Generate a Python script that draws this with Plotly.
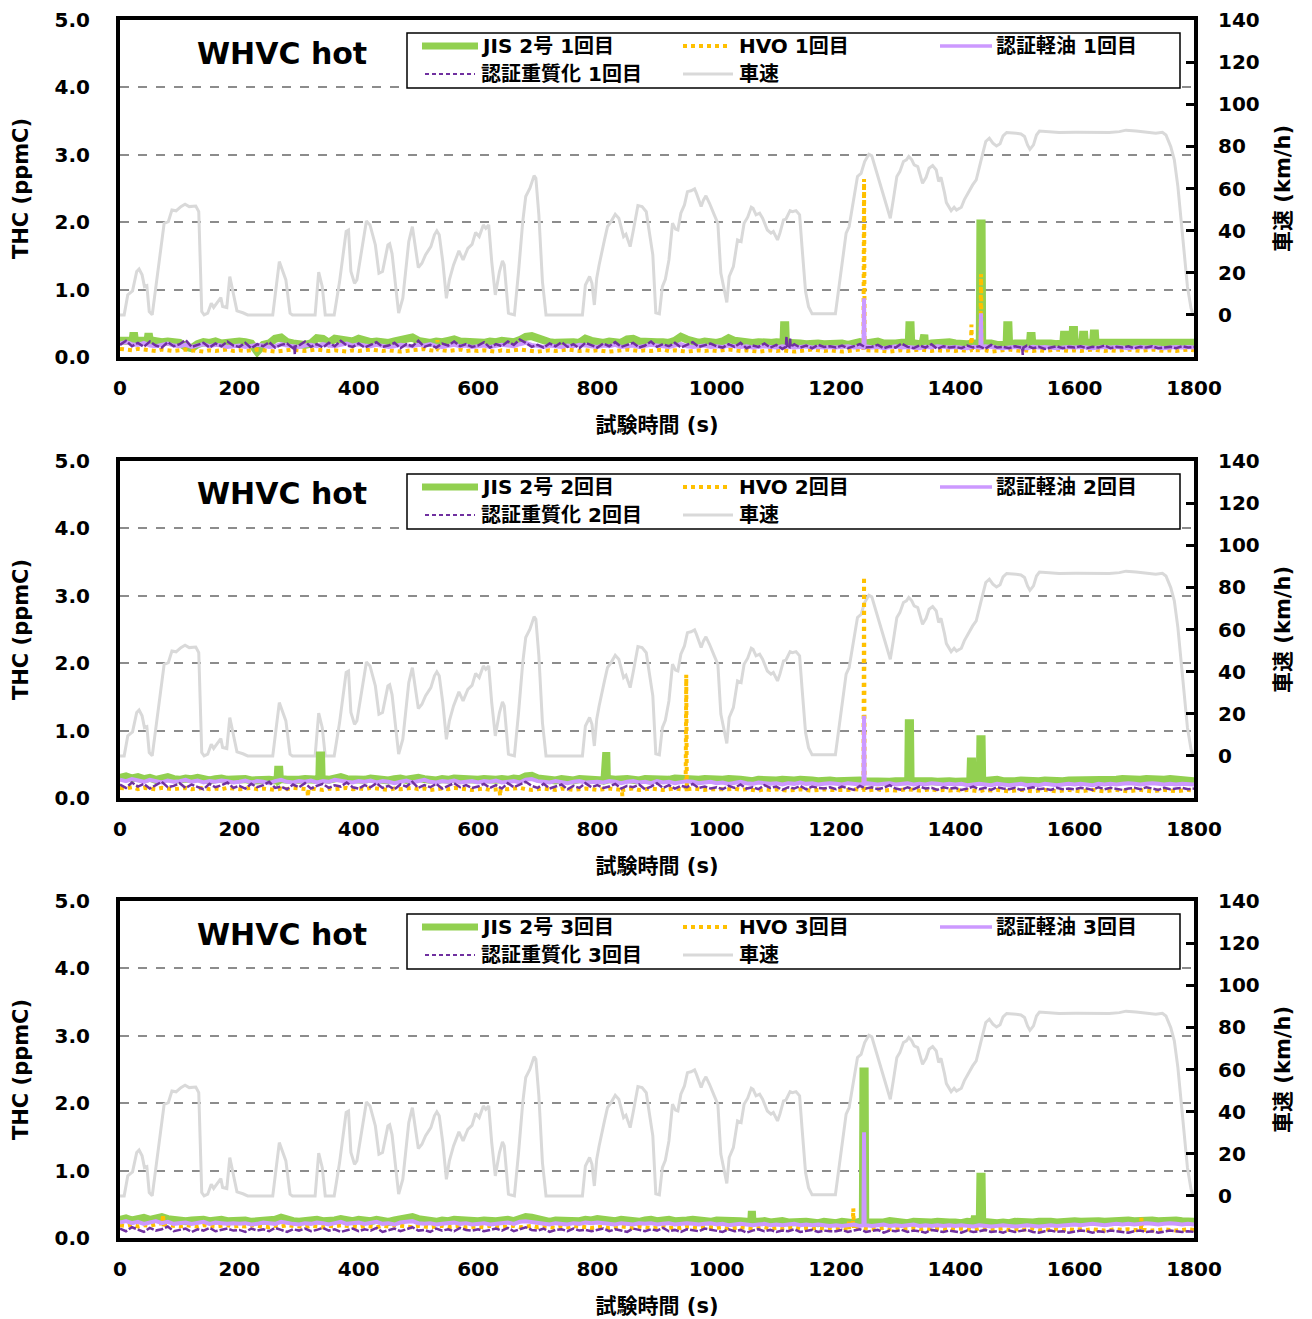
import plotly.graph_objects as go

FONT = "DejaVu Sans, Noto Sans CJK JP, sans-serif"
W, H = 1312, 1319

# ---------------------------------------------------------------
# Vehicle speed over the WHVC cycle (s, km/h) - same in every run
# ---------------------------------------------------------------
speed_t = [0, 7, 13, 21, 28, 32, 37, 41, 45, 49, 54, 59, 65, 74, 81, 87, 94, 102, 109, 116,
           127, 132, 137, 141, 147, 153, 157, 164, 169, 172, 179, 184, 192, 196, 206, 214, 228, 256, 267, 273,
           278, 285, 289, 327, 333, 339, 344, 359, 368, 379, 383, 387, 393, 397, 404, 413, 419, 428, 434, 440,
           449, 452, 456, 461, 467, 474, 478, 484, 490, 495, 500, 506, 512, 521, 527, 531, 535, 541, 547, 552,
           559, 568, 571, 575, 583, 590, 596, 602, 609, 613, 618, 623, 629, 636, 641, 644, 651, 661, 668, 675,
           680, 687, 694, 697, 702, 708, 714, 775, 780, 787, 791, 795, 799, 803, 812, 817, 823, 830, 836, 844,
           848, 855, 860, 868, 875, 882, 887, 893, 898, 904, 909, 914, 920, 926, 931, 935, 940, 946, 951, 957,
           963, 966, 974, 978, 982, 988, 996, 1002, 1007, 1013, 1017, 1021, 1028, 1035, 1041, 1046, 1052, 1058, 1061, 1066,
           1072, 1077, 1085, 1091, 1095, 1102, 1106, 1112, 1116, 1123, 1127, 1133, 1139, 1143, 1149, 1154, 1160, 1199, 1204, 1210,
           1217, 1222, 1229, 1236, 1242, 1248, 1255, 1260, 1267, 1275, 1284, 1291, 1296, 1302, 1307, 1313, 1318, 1322, 1327, 1331,
           1337, 1345, 1351, 1356, 1362, 1368, 1372, 1376, 1382, 1385, 1393, 1398, 1402, 1410, 1415, 1421, 1429, 1435, 1440, 1446,
           1451, 1457, 1463, 1469, 1475, 1480, 1486, 1495, 1502, 1510, 1516, 1521, 1525, 1531, 1536, 1541, 1552, 1574, 1602, 1630,
           1658, 1675, 1686, 1703, 1720, 1736, 1747, 1753, 1761, 1767, 1773, 1778, 1784, 1789, 1795, 1798, 1800]
speed_kmh = [0, 0, 9.5, 11.4, 20.6, 21.8, 19.0, 13.4, 13.9, 1.6, 0, 11.0, 23.7, 43.5, 44.3, 49.8, 49.4, 51.4, 52.5, 51.4,
             51.7, 49.0, 1.6, 0, 0.8, 5.5, 3.5, 6.3, 8.2, 4.0, 3.5, 18.2, 7.1, 1.9, 1.0, 0, 0, 0, 25.3, 20.6,
             16.6, 0.8, 0, 0, 20.3, 13.4, 0, 0, 15.8, 39.6, 40.3, 20.6, 15.0, 16.6, 28.5, 44.6, 42.7, 33.2, 19.8, 20.6,
             33.2, 33.8, 29.0, 17.4, 0.8, 7.9, 19.0, 34.8, 41.9, 31.6, 22.5, 24.5, 28.5, 32.4, 38.0, 39.9, 38.0, 25.3, 7.9, 16.6,
             23.7, 30.4, 28.8, 26.1, 31.6, 33.5, 39.1, 37.2, 42.7, 41.1, 42.7, 25.3, 9.5, 20.6, 25.6, 23.7, 0.8, 0, 20.6, 44.3,
             56.2, 60.1, 66.1, 64.9, 47.5, 15.8, 0, 0, 14.2, 18.2, 15.0, 4.7, 17.4, 23.7, 35.6, 41.9, 44.3, 47.8, 45.9, 37.2,
             38.3, 32.4, 39.6, 51.9, 51.4, 49.0, 39.6, 28.5, 1.0, 0.5, 13.4, 16.9, 26.1, 43.5, 40.7, 40.3, 48.3, 52.2, 58.5, 58.9,
             59.8, 57.8, 51.4, 54.6, 56.5, 53.0, 47.5, 43.5, 19.8, 10.3, 5.9, 18.2, 22.9, 35.6, 34.8, 43.5, 46.4, 51.1, 50.6, 47.5,
             48.3, 45.9, 40.3, 38.8, 39.6, 35.6, 38.8, 45.1, 45.4, 49.5, 49.0, 49.5, 47.5, 32.4, 11.1, 3.9, 0.5, 0.5, 11.9, 22.9,
             38.8, 41.9, 53.0, 65.7, 67.2, 72.8, 76.3, 75.5, 68.8, 60.9, 53.0, 45.9, 54.6, 65.7, 68.0, 72.8, 73.6, 75.2, 73.6, 71.2,
             70.4, 62.5, 65.3, 69.6, 70.9, 68.8, 63.3, 65.3, 57.8, 53.3, 49.5, 51.1, 49.8, 51.1, 54.6, 57.8, 61.7, 64.1, 70.4, 76.7,
             82.3, 83.9, 81.5, 80.2, 81.2, 85.0, 86.6, 86.2, 86.2, 85.9, 84.7, 80.7, 78.6, 80.7, 85.4, 87.3, 87.0, 86.6, 86.7, 86.6,
             86.6, 87.0, 87.7, 87.3, 86.6, 86.2, 86.7, 85.4, 79.9, 73.6, 60.9, 45.1, 29.3, 13.4, 3.2, 0.5, 0]

# ---------------------------------------------------------------
# THC records, one value every 10 s, in units of 0.01 ppmC
# ---------------------------------------------------------------
thc_t = list(range(0, 1801, 10))

# run 1
jis_1 = [24, 25, 26, 24, 22, 25, 23, 22, 23, 22, 21, 15, 13, 19, 22, 21, 23, 20, 22, 24,
         23, 22, 20, 8, 18, 20, 27, 29, 22, 20, 19, 18, 20, 28, 27, 21, 27, 26, 24, 23,
         27, 24, 22, 23, 22, 21, 23, 25, 28, 29, 24, 22, 21, 23, 22, 24, 26, 23, 22, 21,
         22, 21, 23, 22, 24, 23, 22, 25, 30, 31, 27, 23, 22, 21, 22, 21, 22, 21, 27, 24,
         22, 21, 23, 22, 21, 26, 27, 23, 22, 21, 22, 22, 21, 24, 30, 26, 22, 21, 23, 22,
         21, 23, 28, 24, 22, 20, 21, 22, 20, 21, 22, 23, 21, 22, 20, 19, 21, 20, 19, 20,
         19, 20, 18, 21, 22, 20, 21, 23, 20, 19, 20, 21, 22, 20, 19, 18, 20, 21, 19, 22,
         20, 18, 19, 20, 19, 21, 20, 18, 19, 21, 20, 19, 18, 20, 21, 22, 20, 19, 20, 21,
         22, 21, 22, 20, 21, 22, 23, 22, 21, 22, 23, 22, 21, 22, 23, 22, 21, 22, 23, 22,
         21]
hvo_1 = [12, 11, 10, 12, 11, 10, 9, 11, 10, 9, 10, 11, 10, 9, 8, 10, 9, 10, 11, 9,
         10, 9, 10, 11, 10, 9, 8, 9, 10, 11, 10, 9, 10, 11, 10, 9, 10, 9, 8, 10,
         9, 10, 11, 10, 9, 10, 9, 8, 9, 10, 11, 12, 10, 9, 10, 9, 10, 11, 9, 10,
         9, 10, 9, 8, 10, 9, 10, 11, 10, 9, 8, 9, 10, 9, 10, 11, 10, 9, 10, 9,
         10, 9, 8, 9, 10, 11, 10, 9, 10, 9, 10, 11, 9, 10, 9, 8, 9, 10, 9, 10,
         9, 10, 11, 10, 9, 10, 9, 8, 9, 10, 9, 10, 9, 8, 9, 10, 11, 10, 9, 10,
         9, 8, 9, 10, 11, 10, 9, 10, 9, 8, 9, 10, 9, 10, 11, 10, 9, 10, 9, 10,
         9, 10, 9, 10, 9, 10, 8, 9, 10, 11, 10, 9, 10, 9, 10, 9, 10, 11, 10, 9,
         10, 9, 10, 11, 10, 9, 10, 9, 10, 11, 10, 9, 10, 11, 10, 9, 10, 9, 10, 11,
         10]
kei_1 = [20, 22, 19, 18, 21, 17, 16, 18, 20, 17, 16, 18, 15, 17, 19, 16, 18, 17, 15, 16,
         17, 15, 16, 18, 17, 15, 16, 19, 17, 16, 15, 17, 18, 16, 19, 17, 16, 18, 20, 17,
         19, 17, 16, 18, 17, 15, 16, 18, 17, 16, 18, 17, 19, 16, 15, 17, 18, 16, 17, 15,
         16, 17, 15, 16, 18, 17, 16, 19, 21, 18, 16, 15, 17, 16, 15, 17, 16, 18, 17, 16,
         15, 17, 16, 18, 15, 16, 17, 15, 16, 18, 17, 16, 15, 17, 19, 16, 15, 16, 17, 15,
         16, 15, 17, 16, 15, 16, 14, 15, 16, 15, 14, 16, 15, 14, 15, 16, 14, 15, 14, 15,
         14, 15, 16, 14, 15, 16, 14, 15, 13, 15, 16, 14, 15, 14, 13, 15, 14, 16, 15, 14,
         15, 14, 13, 15, 14, 16, 15, 14, 13, 14, 15, 14, 13, 15, 14, 15, 14, 13, 14, 15,
         14, 15, 14, 13, 14, 15, 14, 15, 14, 13, 14, 15, 14, 15, 14, 13, 14, 15, 14, 15,
         14]
jyu_1 = [18, 24, 16, 21, 15, 23, 17, 14, 22, 16, 19, 25, 15, 18, 21, 14, 20, 16, 23, 17,
         15, 21, 13, 19, 16, 22, 14, 18, 20, 13, 17, 23, 15, 19, 14, 21, 16, 24, 17, 15,
         20, 14, 18, 22, 15, 17, 21, 13, 19, 16, 24, 15, 18, 14, 20, 17, 23, 16, 19, 15,
         17, 22, 14, 19, 16, 23, 18, 26, 21, 15, 18, 14, 20, 16, 22, 15, 19, 13, 21, 17,
         14, 20, 16, 22, 15, 18, 21, 14, 17, 23, 15, 19, 16, 21, 14, 18, 22, 15, 17, 20,
         16, 14, 19, 15, 21, 13, 17, 15, 20, 14, 18, 12, 16, 19, 14, 17, 13, 18, 15, 16,
         14, 17, 13, 16, 19, 14, 15, 18, 13, 16, 14, 20, 15, 13, 17, 14, 19, 12, 16, 14,
         15, 13, 17, 14, 16, 12, 18, 14, 15, 13, 16, 14, 17, 13, 15, 12, 14, 16, 13, 15,
         14, 16, 13, 15, 14, 17, 13, 15, 14, 16, 13, 15, 14, 16, 13, 14, 15, 13, 16, 14,
         15]

# run 2
jis_2 = [30, 32, 29, 31, 28, 30, 27, 29, 31, 28, 27, 29, 28, 30, 27, 26, 28, 29, 27, 28,
         27, 28, 26, 27, 28, 27, 26, 28, 27, 26, 27, 28, 27, 26, 28, 27, 29, 31, 28, 27,
         28, 27, 29, 28, 27, 26, 28, 29, 27, 28, 30, 28, 27, 26, 28, 27, 29, 28, 27, 26,
         27, 28, 26, 27, 28, 27, 29, 28, 32, 33, 29, 28, 27, 26, 28, 27, 26, 28, 27, 28,
         27, 26, 28, 27, 29, 28, 27, 26, 28, 27, 28, 26, 27, 29, 28, 27, 26, 27, 28, 27,
         26, 27, 28, 26, 27, 26, 25, 27, 26, 25, 26, 27, 25, 26, 27, 25, 26, 25, 27, 26,
         25, 26, 24, 25, 26, 25, 24, 26, 25, 24, 25, 26, 24, 25, 26, 27, 25, 24, 26, 25,
         24, 25, 26, 24, 25, 26, 25, 27, 25, 24, 25, 26, 25, 24, 25, 26, 25, 24, 25, 26,
         26, 27, 26, 25, 26, 27, 26, 27, 28, 27, 26, 27, 28, 27, 26, 27, 28, 27, 26, 27,
         25]
hvo_2 = [15, 14, 16, 13, 15, 14, 13, 15, 14, 13, 14, 15, 13, 14, 15, 13, 14, 13, 15, 14,
         13, 14, 15, 13, 14, 13, 12, 14, 13, 15, 14, 13, 14, 13, 12, 14, 13, 14, 15, 13,
         14, 13, 15, 14, 13, 12, 14, 13, 14, 15, 13, 14, 12, 13, 14, 13, 15, 14, 13, 12,
         13, 14, 12, 13, 14, 13, 14, 15, 13, 12, 13, 14, 13, 12, 14, 13, 12, 13, 14, 13,
         12, 13, 14, 13, 12, 13, 14, 12, 13, 14, 13, 12, 13, 14, 13, 12, 14, 13, 12, 13,
         13, 12, 13, 14, 12, 13, 12, 11, 13, 12, 13, 12, 11, 12, 13, 12, 11, 12, 13, 12,
         12, 11, 12, 13, 12, 11, 12, 13, 11, 12, 11, 12, 13, 12, 11, 12, 13, 11, 12, 11,
         12, 11, 12, 11, 10, 12, 11, 12, 11, 10, 11, 12, 11, 10, 11, 12, 11, 10, 11, 12,
         11, 10, 11, 12, 11, 10, 11, 12, 11, 10, 11, 12, 11, 10, 11, 12, 11, 10, 11, 12,
         11]
kei_2 = [27, 25, 28, 26, 24, 27, 25, 23, 26, 24, 25, 27, 24, 26, 23, 25, 24, 26, 25, 23,
         24, 26, 23, 25, 24, 22, 25, 27, 24, 23, 25, 24, 26, 23, 25, 24, 27, 25, 24, 23,
         25, 24, 26, 23, 25, 24, 22, 24, 26, 23, 25, 27, 24, 23, 25, 24, 26, 23, 24, 25,
         23, 25, 24, 26, 23, 24, 25, 23, 27, 28, 25, 24, 23, 25, 24, 22, 24, 25, 23, 24,
         24, 23, 25, 24, 22, 24, 25, 23, 24, 22, 25, 23, 24, 22, 23, 25, 24, 22, 23, 24,
         22, 23, 21, 22, 24, 22, 21, 23, 22, 21, 22, 20, 22, 21, 23, 21, 22, 20, 21, 22,
         21, 20, 22, 21, 20, 22, 21, 20, 21, 22, 20, 21, 22, 20, 21, 20, 22, 21, 20, 21,
         20, 21, 19, 20, 21, 20, 19, 21, 20, 19, 20, 21, 19, 20, 19, 21, 20, 19, 20, 21,
         20, 21, 20, 19, 21, 20, 21, 20, 21, 22, 21, 20, 21, 22, 21, 20, 21, 20, 21, 20,
         20]
jyu_2 = [20, 15, 23, 17, 21, 14, 19, 24, 16, 18, 22, 15, 20, 17, 13, 21, 16, 19, 23, 15,
         18, 14, 21, 16, 19, 24, 15, 17, 13, 20, 16, 22, 14, 18, 21, 15, 19, 17, 23, 16,
         14, 19, 16, 22, 15, 18, 13, 20, 17, 24, 15, 19, 16, 21, 14, 18, 22, 16, 19, 15,
         17, 21, 15, 19, 14, 22, 16, 20, 24, 18, 15, 21, 14, 17, 20, 13, 18, 15, 22, 16,
         19, 15, 17, 21, 14, 18, 16, 20, 13, 17, 22, 15, 19, 14, 18, 16, 21, 15, 17, 14,
         16, 13, 18, 15, 20, 14, 16, 13, 19, 15, 17, 12, 16, 14, 18, 13, 17, 15, 14, 16,
         13, 17, 15, 12, 18, 14, 16, 13, 15, 19, 14, 12, 16, 13, 17, 14, 15, 12, 16, 14,
         15, 12, 14, 17, 13, 15, 12, 16, 14, 13, 15, 12, 14, 16, 13, 14, 12, 15, 13, 14,
         13, 15, 14, 12, 16, 13, 15, 14, 12, 14, 15, 13, 16, 14, 12, 15, 13, 14, 15, 13,
         14]

# run 3
jis_3 = [27, 29, 26, 28, 30, 27, 29, 31, 28, 26, 27, 25, 26, 28, 27, 25, 26, 27, 25, 26,
         25, 26, 24, 25, 26, 25, 27, 30, 26, 25, 24, 25, 26, 27, 25, 24, 26, 28, 26, 25,
         27, 26, 25, 27, 26, 24, 26, 28, 29, 31, 28, 26, 25, 24, 26, 25, 27, 26, 25, 24,
         25, 26, 24, 25, 26, 27, 25, 28, 31, 30, 27, 25, 24, 26, 25, 24, 26, 25, 27, 26,
         28, 27, 26, 25, 27, 26, 25, 24, 26, 27, 25, 26, 27, 25, 24, 26, 27, 26, 25, 24,
         26, 25, 24, 26, 25, 24, 23, 24, 25, 23, 24, 25, 23, 24, 25, 24, 23, 22, 24, 23,
         22, 24, 23, 22, 24, 23, 22, 24, 23, 25, 24, 23, 22, 24, 23, 22, 23, 24, 22, 23,
         23, 22, 24, 23, 22, 23, 24, 22, 23, 22, 24, 23, 22, 23, 24, 25, 24, 23, 24, 25,
         25, 24, 25, 26, 25, 24, 25, 26, 25, 26, 25, 26, 27, 26, 25, 26, 27, 26, 25, 26,
         24]
hvo_3 = [19, 18, 20, 17, 19, 18, 20, 22, 19, 18, 17, 19, 18, 17, 19, 18, 17, 18, 19, 17,
         18, 17, 19, 18, 17, 16, 18, 17, 19, 18, 17, 16, 18, 17, 16, 18, 17, 19, 18, 17,
         16, 18, 17, 16, 18, 17, 19, 18, 17, 16, 18, 17, 16, 17, 18, 16, 17, 18, 16, 17,
         17, 16, 18, 17, 16, 17, 18, 16, 17, 18, 16, 17, 16, 15, 17, 16, 18, 17, 16, 15,
         16, 17, 15, 16, 17, 16, 15, 17, 16, 15, 16, 17, 15, 16, 15, 17, 16, 15, 16, 15,
         15, 16, 14, 15, 16, 15, 14, 15, 16, 14, 15, 14, 15, 16, 14, 15, 14, 15, 14, 15,
         14, 15, 13, 14, 15, 14, 13, 14, 15, 13, 14, 13, 14, 15, 13, 14, 13, 14, 13, 14,
         13, 14, 13, 12, 14, 13, 12, 13, 14, 12, 13, 12, 13, 14, 12, 13, 12, 13, 12, 13,
         12, 13, 12, 13, 12, 11, 12, 13, 12, 13, 12, 13, 12, 11, 12, 13, 12, 11, 12, 13,
         12]
kei_3 = [23, 25, 22, 24, 21, 23, 25, 22, 24, 21, 22, 23, 21, 22, 24, 21, 23, 22, 21, 22,
         21, 22, 20, 21, 23, 22, 21, 24, 22, 21, 20, 22, 21, 23, 22, 20, 22, 24, 21, 22,
         23, 21, 22, 24, 21, 22, 20, 23, 24, 25, 22, 21, 22, 20, 21, 22, 23, 21, 22, 20,
         21, 22, 20, 21, 22, 23, 21, 24, 25, 24, 22, 21, 20, 22, 21, 20, 22, 21, 23, 22,
         23, 22, 21, 20, 22, 21, 20, 22, 21, 22, 20, 21, 22, 20, 21, 22, 21, 20, 21, 22,
         20, 21, 19, 20, 21, 20, 19, 20, 21, 19, 20, 19, 20, 21, 19, 20, 19, 20, 19, 18,
         19, 18, 19, 20, 18, 19, 18, 19, 20, 18, 19, 18, 19, 20, 18, 19, 18, 19, 18, 19,
         18, 19, 18, 17, 19, 18, 17, 18, 19, 18, 17, 18, 19, 18, 17, 18, 19, 18, 19, 20,
         20, 19, 20, 21, 20, 19, 20, 21, 20, 21, 20, 21, 22, 21, 20, 21, 22, 21, 20, 21,
         20]
jyu_3 = [14, 10, 16, 12, 9, 15, 11, 13, 17, 10, 12, 14, 9, 13, 11, 15, 10, 12, 14, 11,
         12, 9, 14, 11, 13, 10, 15, 12, 9, 13, 11, 14, 10, 12, 15, 11, 13, 9, 12, 14,
         10, 13, 11, 15, 9, 12, 14, 10, 13, 16, 11, 12, 9, 14, 11, 13, 10, 15, 12, 11,
         13, 10, 12, 14, 11, 15, 10, 13, 16, 12, 11, 14, 9, 12, 13, 10, 14, 11, 12, 10,
         12, 14, 10, 13, 11, 9, 14, 12, 10, 13, 11, 15, 10, 12, 9, 13, 11, 10, 14, 12,
         11, 9, 13, 10, 12, 8, 11, 13, 10, 12, 9, 11, 10, 13, 9, 11, 12, 9, 11, 10,
         10, 12, 9, 11, 13, 9, 10, 12, 8, 11, 10, 12, 9, 11, 10, 8, 12, 10, 9, 11,
         10, 8, 11, 9, 10, 12, 9, 10, 8, 11, 9, 10, 12, 9, 8, 10, 11, 9, 10, 8,
         9, 11, 10, 8, 10, 9, 11, 10, 9, 8, 10, 11, 9, 10, 8, 9, 11, 10, 9, 10,
         9]

# short events between the 10 s samples (s, 0.01 ppmC)
jis_1_ev_t = [21, 22, 24, 25, 46, 47, 49, 50, 1112, 1113, 1115, 1116, 1322, 1323, 1325, 1326,
              1345, 1346, 1348, 1349, 1441, 1442, 1444, 1445, 1486, 1487, 1489, 1490, 1525, 1526, 1528, 1529,
              1581, 1582, 1584, 1585, 1596, 1597, 1599, 1600, 1613, 1614, 1616, 1617, 1631, 1632, 1634, 1635]
jis_1_ev_v = [24, 31, 31, 24, 24, 30, 30, 25, 21, 47, 47, 21, 21, 47, 47, 21,
              20, 33, 33, 20, 20, 198, 198, 20, 19, 47, 47, 19, 20, 31, 31, 20,
              21, 33, 33, 21, 21, 40, 40, 21, 21, 33, 33, 21, 21, 35, 35, 21]
hvo_1_ev_t = [531, 532, 533, 1246, 1247, 1248, 1426, 1427, 1428, 1442, 1443, 1444]
hvo_1_ev_v = [11, 25, 11, 10, 264, 10, 10, 48, 10, 10, 123, 10]
kei_1_ev_t = [1246, 1247, 1248, 1442, 1443, 1444]
kei_1_ev_v = [14, 87, 14, 14, 65, 14]
jyu_1_ev_t = [292, 293, 294, 1116, 1117, 1118, 1122, 1123, 1124, 1512, 1513, 1514]
jyu_1_ev_v = [16, 4, 16, 15, 30, 15, 15, 28, 15, 14, 3, 14]

jis_2_ev_t = [264, 265, 267, 268, 334, 335, 337, 338, 812, 813, 815, 816,
              1321, 1322, 1324, 1325, 1425, 1426, 1428, 1429, 1441, 1442, 1444, 1445]
jis_2_ev_v = [27, 42, 42, 27, 27, 63, 63, 27, 27, 68, 68, 27,
              25, 111, 111, 25, 25, 54, 54, 25, 25, 87, 87, 25]
hvo_2_ev_t = [314, 315, 316, 636, 637, 638, 841, 842, 843, 948, 949, 950, 1246, 1247, 1248]
hvo_2_ev_v = [13, 2, 13, 13, 3, 13, 12, 3, 12, 13, 183, 13, 12, 328, 12]
kei_2_ev_t = [1246, 1247, 1248]
kei_2_ev_v = [21, 122, 21]
jyu_2_ev_t = []
jyu_2_ev_v = []

jis_3_ev_t = [1058, 1059, 1061, 1062, 1245, 1246, 1248, 1249, 1431, 1432, 1434, 1435, 1441, 1442, 1444, 1445]
jis_3_ev_v = [24, 40, 40, 24, 23, 247, 247, 23, 23, 28, 28, 23, 24, 91, 91, 24]
hvo_3_ev_t = [71, 72, 73, 1221, 1222, 1223, 1228, 1229, 1230, 1711, 1712, 1713]
hvo_3_ev_v = [20, 35, 20, 16, 25, 16, 16, 44, 16, 12, 30, 12]
kei_3_ev_t = [1246, 1247, 1248]
kei_3_ev_v = [19, 157, 19]
jyu_3_ev_t = []
jyu_3_ev_v = []

runs = ["1", "2", "3"]
series = [
    [(jis_1, jis_1_ev_t, jis_1_ev_v), (hvo_1, hvo_1_ev_t, hvo_1_ev_v),
     (kei_1, kei_1_ev_t, kei_1_ev_v), (jyu_1, jyu_1_ev_t, jyu_1_ev_v)],
    [(jis_2, jis_2_ev_t, jis_2_ev_v), (hvo_2, hvo_2_ev_t, hvo_2_ev_v),
     (kei_2, kei_2_ev_t, kei_2_ev_v), (jyu_2, jyu_2_ev_t, jyu_2_ev_v)],
    [(jis_3, jis_3_ev_t, jis_3_ev_v), (hvo_3, hvo_3_ev_t, hvo_3_ev_v),
     (kei_3, kei_3_ev_t, kei_3_ev_v), (jyu_3, jyu_3_ev_t, jyu_3_ev_v)],
]

fuel_names = ["JIS 2号", "HVO", "認証軽油", "認証重質化"]
speed_name = "車速"

C_JIS, C_HVO, C_KEI, C_JYU, C_SPD = "#92D050", "#FFC000", "#CC99FF", "#7030A0", "#D9D9D9"
line_styles = [
    dict(color=C_JIS, width=8),
    dict(color=C_HVO, width=4, dash="dot"),
    dict(color=C_KEI, width=4),
    dict(color=C_JYU, width=2.5, dash="8px,2px"),
]


def merge(base, ev_t, ev_v):
    pts = sorted(zip(thc_t + ev_t, base + ev_v), key=lambda p: p[0])
    return [p[0] for p in pts], [p[1] / 100 for p in pts]


# plot-area geometry (pixels)
L, R, T, B = 120, 1194, 20, 1238
PANEL_TOPS = [20, 461, 901]
PANEL_H = 337


def px_x(px):
    return (px - L) / (R - L)


def px_y(py):
    return (B - py) / (B - T)


fig = go.Figure()
tick_font = dict(family=FONT, size=20, color="black", weight=700)
title_font = dict(family=FONT, size=21, color="black", weight=700)

shapes, annotations = [], []

for k in range(3):
    xid = "x" if k == 0 else f"x{k + 1}"
    ys = "y" if k == 0 else f"y{2 * k + 1}"   # speed axis (right)
    yt = f"y{2 * k + 2}"                      # THC axis (left), drawn over the speed axis
    run = runs[k]

    fig.add_trace(go.Scatter(x=speed_t, y=speed_kmh, mode="lines", name=speed_name,
                             line=dict(color=C_SPD, width=3), xaxis=xid, yaxis=ys,
                             showlegend=False))
    for (base, ev_t, ev_v), nm, st in zip(series[k], fuel_names, line_styles):
        tx, ty = merge(base, ev_t, ev_v)
        fig.add_trace(go.Scatter(x=tx, y=ty, mode="lines", name=f"{nm} {run}回目",
                                 line=st, xaxis=xid, yaxis=yt, showlegend=False))

    top = PANEL_TOPS[k]
    dom = [px_y(top + PANEL_H), px_y(top)]
    xname = "xaxis" if k == 0 else f"xaxis{k + 1}"
    sname = "yaxis" if k == 0 else f"yaxis{2 * k + 1}"
    tname = f"yaxis{2 * k + 2}"

    fig.layout[xname] = dict(
        domain=[0, 1], anchor=ys, range=[0, 1800], tickvals=list(range(0, 1801, 200)),
        ticks="", showgrid=False, zeroline=False, showline=True, mirror=True,
        linewidth=4, linecolor="black", tickfont=tick_font, ticklabelstandoff=10,
        title=dict(text="試験時間 (s)", font=title_font, standoff=19),
    )
    fig.layout[sname] = dict(
        domain=dom, anchor=xid, side="right", range=[-20, 140],
        tickvals=list(range(0, 141, 20)), ticks="inside", ticklen=8, tickwidth=3,
        tickcolor="black", showgrid=False, zeroline=False, showline=True,
        linewidth=4, linecolor="black", tickfont=tick_font, ticklabelstandoff=16,
        title=dict(text="車速 (km/h)", font=title_font, standoff=18),
    )
    fig.layout[tname] = dict(
        overlaying=ys, anchor=xid, side="left", range=[0, 5], tick0=0, dtick=1,
        tickformat=".1f", ticks="", showgrid=True, gridcolor="#8C8C8C", gridwidth=1.5,
        griddash="dash", zeroline=False, showline=True, linewidth=4, linecolor="black",
        tickfont=tick_font, ticklabelstandoff=22,
        title=dict(text="THC (ppmC)", font=title_font, standoff=21),
    )

    # panel title
    annotations.append(dict(text="WHVC hot", x=px_x(282), y=px_y(top + 33), xref="paper", yref="paper",
                            showarrow=False, xanchor="center", yanchor="middle",
                            font=dict(family=FONT, size=30, color="black", weight=700)))

    # legend box
    shapes.append(dict(type="rect", xref="paper", yref="paper", layer="above",
                       x0=px_x(407), x1=px_x(1180), y0=px_y(top + 68), y1=px_y(top + 13),
                       line=dict(color="black", width=1.5), fillcolor="white"))
    r1, r2 = top + 26, top + 54
    entries = [
        (422, 478, r1, dict(color=C_JIS, width=7), 479, f"{fuel_names[0]} {run}回目"),
        (683, 727, r1, dict(color=C_HVO, width=4, dash="dot"), 737, f"{fuel_names[1]} {run}回目"),
        (940, 992, r1, dict(color=C_KEI, width=3.5), 994, f"{fuel_names[2]} {run}回目"),
        (425, 475, r2, dict(color=C_JYU, width=2, dash="4px,3px"), 479, f"{fuel_names[3]} {run}回目"),
        (683, 733, r2, dict(color=C_SPD, width=3), 737, speed_name),
    ]
    for x0, x1, yy, ln, tx0, label in entries:
        shapes.append(dict(type="line", xref="paper", yref="paper", layer="above",
                           x0=px_x(x0), x1=px_x(x1), y0=px_y(yy), y1=px_y(yy), line=ln))
        annotations.append(dict(text=label, x=px_x(tx0), y=px_y(yy), xref="paper", yref="paper",
                                showarrow=False, xanchor="left", yanchor="middle",
                                font=dict(family=FONT, size=20, color="black", weight=700)))

fig.update_layout(
    width=W, height=H,
    margin=dict(l=L, r=W - R, t=T, b=H - B, autoexpand=False),
    paper_bgcolor="white", plot_bgcolor="white",
    showlegend=False,
    shapes=shapes, annotations=annotations,
    font=dict(family=FONT, color="black"),
)

fig.write_html("out.html")
